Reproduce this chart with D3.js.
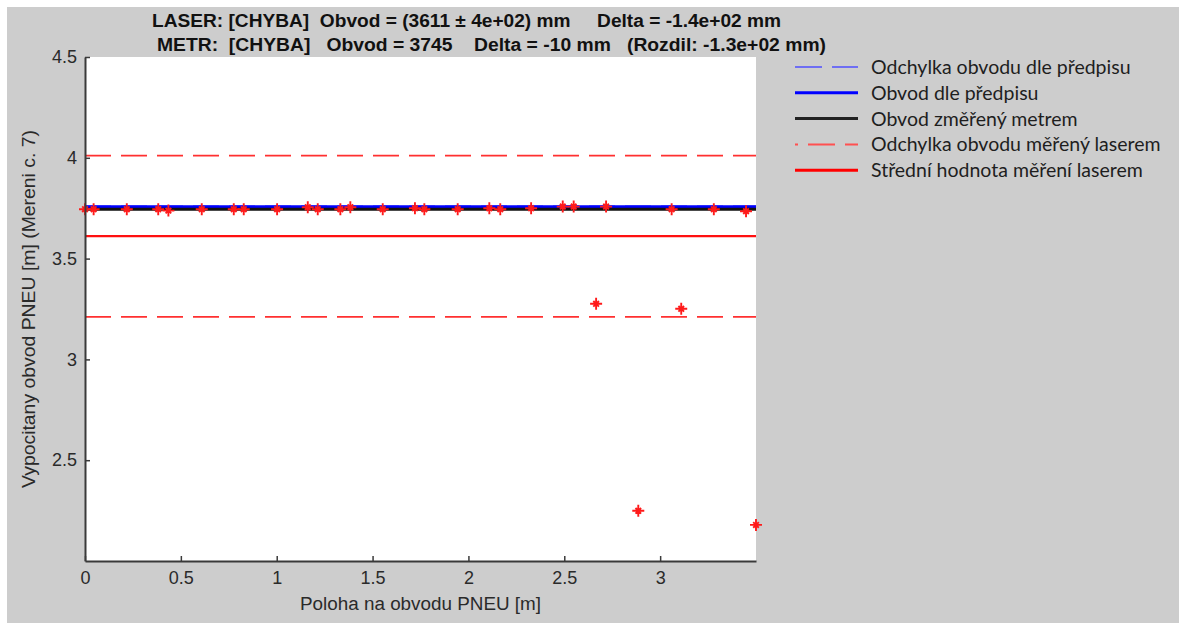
<!DOCTYPE html>
<html>
<head>
<meta charset="utf-8">
<script src="https://cdn.jsdelivr.net/npm/d3@7"></script>
<style>
  html, body { margin: 0; padding: 0; background: #fff; }
  svg text { white-space: pre; }
</style>
</head>
<body>
<div id="canvas"></div>
<script>
// measured positions on the tyre [m] and computed circumference [m]
const poloha = [0, 0.045, 0.218, 0.382, 0.435, 0.609, 0.776, 0.828, 1.002, 1.162,
                1.214, 1.332, 1.384, 1.553, 1.721, 1.770, 1.944, 2.109, 2.166, 2.327,
                2.492, 2.549, 2.666, 2.718, 2.886, 3.060, 3.110, 3.280, 3.448, 3.500];
const obvod = [3.745, 3.745, 3.745, 3.745, 3.738, 3.745, 3.745, 3.745, 3.745, 3.755,
               3.745, 3.745, 3.755, 3.745, 3.750, 3.745, 3.745, 3.750, 3.745, 3.750,
               3.758, 3.758, 3.276, 3.758, 2.249, 3.745, 3.251, 3.745, 3.735, 2.179];

const predpis = 3.755;      // Obvod dle predpisu
const predpisOdch = 0.005;  // Odchylka obvodu dle predpisu
const metr = 3.745;         // Obvod zmereny metrem
const laserMean = 3.611;    // Stredni hodnota mereni laserem
const laserOdch = 0.4;      // Odchylka obvodu mereny laserem

const xTicks = [0, 0.5, 1, 1.5, 2, 2.5, 3];
const yTicks = [2.5, 3, 3.5, 4, 4.5];
const xDomain = [0, 3.5];
const yDomain = [2, 4.5];

const titleLines = [
  "LASER: [CHYBA]  Obvod = (3611 ± 4e+02) mm     Delta = -1.4e+02 mm",
  "METR:  [CHYBA]   Obvod = 3745    Delta = -10 mm   (Rozdil: -1.3e+02 mm)"
];
const legendLabels = [
  "Odchylka obvodu dle předpisu",
  "Obvod dle předpisu",
  "Obvod změřený metrem",
  "Odchylka obvodu měřený laserem",
  "Střední hodnota měření laserem"
];

const w = 1179;
const h = 626;
const margin = { top: 57, left: 85, right: 423, bottom: 65 };
const width = w - margin.left - margin.right;
const height = h - margin.top - margin.bottom;

const svg = d3.select("#canvas")
  .append("svg")
  .attr("width", w)
  .attr("height", h);

// grey figure background
svg.append("rect")
  .attr("x", 7).attr("y", 7)
  .attr("width", w - 7).attr("height", 616)
  .attr("fill", "#cdcdcd");

const x = d3.scaleLinear().domain(xDomain).range([0, width]);
const y = d3.scaleLinear().domain(yDomain).range([height, 0]);

const chart = svg.append("g")
  .attr("transform", "translate(" + margin.left + "," + margin.top + ")");

chart.append("rect")
  .attr("width", width).attr("height", height)
  .attr("fill", "#fff");

// horizontal reference lines
const refLines = [
  { v: predpis + predpisOdch, color: "#4f4fff", width: 1.2, dash: "26,10" },
  { v: predpis - predpisOdch, color: "#4f4fff", width: 1.2, dash: "26,10" },
  { v: predpis, color: "#0000ff", width: 4, dash: null },
  { v: metr, color: "#111", width: 3, dash: null },
  { v: laserMean + laserOdch, color: "#ff3030", width: 1.8, dash: "26,10" },
  { v: laserMean - laserOdch, color: "#ff3030", width: 1.8, dash: "26,10" },
  { v: laserMean, color: "#ff1010", width: 2.2, dash: null }
];

chart.append("g")
  .selectAll("line")
  .data(refLines)
  .enter()
  .append("line")
  .attr("x1", 0)
  .attr("x2", width)
  .attr("y1", d => y(d.v))
  .attr("y2", d => y(d.v))
  .attr("stroke", d => d.color)
  .attr("stroke-width", d => d.width)
  .attr("stroke-dasharray", d => d.dash);

// star markers ('*') - long plus, short cross
const star = "M-6,0H6M0,-6V6M-2.8,-2.8L2.8,2.8M-2.8,2.8L2.8,-2.8";
chart.append("g")
  .selectAll("path")
  .data(poloha)
  .enter()
  .append("path")
  .attr("d", star)
  .attr("transform", (d, i) => "translate(" + x(d) + "," + y(obvod[i]) + ")")
  .attr("stroke", "#ff1a1a")
  .attr("stroke-width", 1.9)
  .attr("fill", "none");

// axes
const axisFont = "'Liberation Sans Narrow', 'Liberation Sans', Arial, sans-serif";

const xAxis = chart.append("g")
  .attr("transform", "translate(0," + height + ")")
  .call(d3.axisBottom(x).tickValues(xTicks).tickFormat(d3.format("")).tickSizeInner(-5).tickSizeOuter(0).tickPadding(10));

const yAxis = chart.append("g")
  .call(d3.axisLeft(y).tickValues(yTicks).tickFormat(d3.format("")).tickSizeInner(-5).tickSizeOuter(0).tickPadding(8));

[xAxis, yAxis].forEach(a => {
  a.select(".domain").attr("stroke", "#3a3a3a").attr("stroke-width", 2);
  a.selectAll(".tick line").attr("stroke", "#3a3a3a").attr("stroke-width", 1.5);
  a.selectAll(".tick text")
    .attr("fill", "#2a2a2a")
    .style("font-family", axisFont)
    .style("font-size", "18px");
});

// axis titles
svg.append("text")
  .attr("x", margin.left + width / 2)
  .attr("y", 610)
  .attr("text-anchor", "middle")
  .attr("textLength", 241)
  .attr("lengthAdjust", "spacingAndGlyphs")
  .style("font-family", axisFont)
  .style("font-size", "18px")
  .attr("fill", "#2a2a2a")
  .text("Poloha na obvodu PNEU [m]");

svg.append("text")
  .attr("transform", "translate(35," + (margin.top + height / 2) + ") rotate(-90)")
  .attr("text-anchor", "middle")
  .attr("textLength", 358)
  .attr("lengthAdjust", "spacingAndGlyphs")
  .style("font-family", axisFont)
  .style("font-size", "18px")
  .attr("fill", "#2a2a2a")
  .text("Vypocitany obvod PNEU [m] (Mereni c. 7)");

// title
const titleX = [152, 157];
const titleLen = [629, 669];
svg.append("g")
  .selectAll("text")
  .data(titleLines)
  .enter()
  .append("text")
  .attr("x", (d, i) => titleX[i])
  .attr("y", (d, i) => 27 + i * 24)
  .attr("textLength", (d, i) => titleLen[i])
  .attr("lengthAdjust", "spacingAndGlyphs")
  .style("font-family", axisFont)
  .style("font-size", "18px")
  .style("font-weight", "bold")
  .attr("fill", "#111")
  .text(d => d);

// legend (outside the axes)
const legendStyle = [
  { color: "#4f4fff", width: 1.5, dash: "27,10", offset: 0 },
  { color: "#0000ff", width: 3, dash: null, offset: 0 },
  { color: "#222", width: 3, dash: null, offset: 0 },
  { color: "#ff5050", width: 2, dash: "27,10", offset: 24 },
  { color: "#ff0000", width: 3, dash: null, offset: 0 }
];
const legend = svg.append("g")
  .attr("transform", "translate(795,67)");

const item = legend.selectAll("g")
  .data(legendLabels)
  .enter()
  .append("g")
  .attr("transform", (d, i) => "translate(0," + (i * 25.8) + ")");

item.append("line")
  .attr("x1", 0).attr("x2", 63)
  .attr("stroke", (d, i) => legendStyle[i].color)
  .attr("stroke-width", (d, i) => legendStyle[i].width)
  .attr("stroke-dasharray", (d, i) => legendStyle[i].dash)
  .attr("stroke-dashoffset", (d, i) => legendStyle[i].offset);

item.append("text")
  .attr("x", 76)
  .attr("y", 7)
  .style("font-family", "Lato, 'Open Sans', sans-serif")
  .style("font-size", "19.5px")
  .attr("fill", "#1e1e1e")
  .text(d => d);
</script>
</body>
</html>
